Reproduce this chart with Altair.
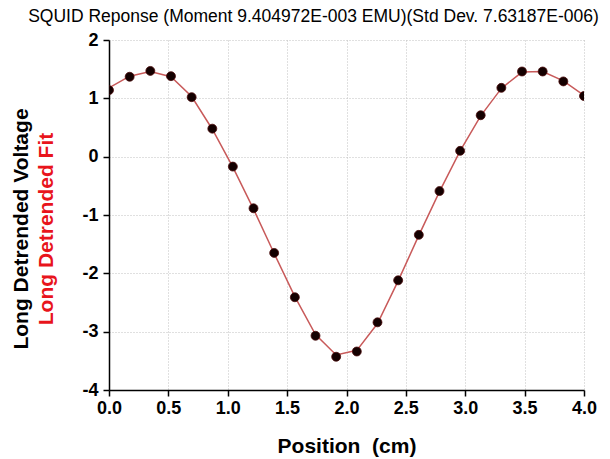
import altair as alt
import pandas as pd

# ---- data ----
position = [0.0, 0.174, 0.348, 0.522, 0.696, 0.870, 1.043, 1.217, 1.391, 1.565,
            1.739, 1.913, 2.087, 2.261, 2.435, 2.609, 2.783, 2.957, 3.130, 3.304,
            3.478, 3.652, 3.826, 4.0]
voltage = [1.14, 1.37, 1.47, 1.38, 1.02, 0.48, -0.17, -0.885, -1.65, -2.41,
           -3.07, -3.43, -3.34, -2.84, -2.12, -1.34, -0.59, 0.10, 0.71, 1.18,
           1.46, 1.46, 1.29, 1.04]
fit = [1.18, 1.38, 1.46, 1.37, 1.03, 0.47, -0.18, -0.90, -1.66, -2.40,
       -3.05, -3.40, -3.32, -2.86, -2.13, -1.35, -0.60, 0.10, 0.70, 1.17,
       1.45, 1.46, 1.30, 1.05]
x_ticks = [0.0, 0.25, 0.5, 0.75, 1.0, 1.25, 1.5, 1.75, 2.0, 2.25, 2.5, 2.75,
           3.0, 3.25, 3.5, 3.75, 4.0]
y_ticks = [-4, -3.5, -3, -2.5, -2, -1.5, -1, -0.5, 0, 0.5, 1, 1.5, 2]

title_text = "SQUID Reponse (Moment 9.404972E-003 EMU)(Std Dev. 7.63187E-006)"
x_title = "Position\u00a0 (cm)"
y_title_black = ["Long Detrended Voltage"]
y_title_red = ["Long Detrended Fit"]

FONT = "Liberation Sans"

df = pd.DataFrame({"position": position, "voltage": voltage, "fit": fit})

x_minor = "abs(datum.value*2 - round(datum.value*2)) > 0.01"
y_minor = "abs(datum.value - round(datum.value)) > 0.01"

common_axis = dict(
    gridDash=[1, 2], gridColor="#c0c0c0", gridWidth=1,
    domainColor="black", domainWidth=1.5, tickColor="black", tickWidth=1.5,
    labelFont=FONT, labelFontSize=18, labelFontWeight="bold", labelColor="black",
    labelFlush=False, labelOverlap=False,
)

x_axis = alt.Axis(
    values=x_ticks,
    labelExpr=f"{x_minor} ? '' : format(datum.value, '.1f')",
    tickSize={"condition": {"test": x_minor, "value": 3}, "value": 6},
    gridOpacity={"condition": {"test": x_minor, "value": 0}, "value": 1},
    labelPadding=3,
    title=x_title, titleFont=FONT, titleFontSize=21, titleFontWeight="bold",
    titleColor="black", titlePadding=18,
    **common_axis,
)
y_axis = alt.Axis(
    values=y_ticks,
    labelExpr=f"{y_minor} ? '' : toString(datum.value)",
    tickSize={"condition": {"test": y_minor, "value": 3}, "value": 6},
    gridOpacity={"condition": {"test": y_minor, "value": 0}, "value": 1},
    labelPadding=5,
    title=None,
    **common_axis,
)

x_enc = alt.X("position:Q", scale=alt.Scale(domain=[0, 4], nice=False), axis=x_axis)
y_scale = alt.Scale(domain=[-4, 2], nice=False)

line = alt.Chart(df).mark_line(color="#c85a5a", strokeWidth=1.5, clip=True).encode(
    x=x_enc,
    y=alt.Y("fit:Q", scale=y_scale, axis=y_axis),
)
points = alt.Chart(df).mark_circle(size=80, opacity=1, color="#140000",
                                   stroke="#4a0a0a", strokeWidth=0.8, clip=True).encode(
    x=alt.X("position:Q"),
    y=alt.Y("voltage:Q"),
)

ytb = alt.Chart(pd.DataFrame({"t": y_title_black})).mark_text(
    angle=270, font=FONT, fontSize=21, fontWeight="bold", color="black",
    align="center", baseline="middle"
).encode(text="t:N", x=alt.value(-87), y=alt.value(189))
ytr = alt.Chart(pd.DataFrame({"t": y_title_red})).mark_text(
    angle=270, font=FONT, fontSize=21, fontWeight="bold", color="#e8141c",
    align="center", baseline="middle"
).encode(text="t:N", x=alt.value(-62), y=alt.value(189))

chart = alt.layer(line, points, ytb, ytr).properties(
    width=475, height=350,
    title=alt.TitleParams(title_text, font=FONT, fontSize=17.5, fontWeight="normal",
                          color="black", anchor="middle", dx=-33, dy=2, offset=8),
    autosize=alt.AutoSizeParams(type="none"),
    padding={"left": 109, "top": 40, "right": 26, "bottom": 69},
    background="white",
).configure_view(stroke=None)

chart.save("out.html", embed_options={"renderer": "svg", "actions": False})
